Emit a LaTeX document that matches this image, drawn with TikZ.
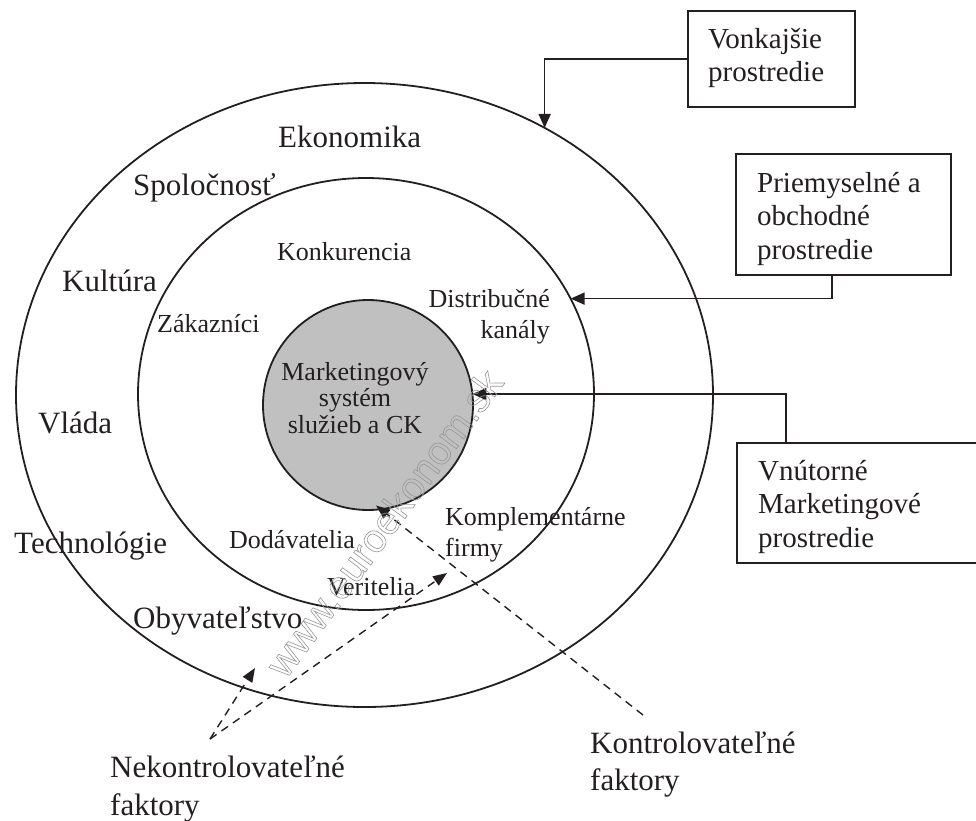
\documentclass[tikz,border=0pt]{standalone}
\usepackage{fontspec}
\setmainfont{Liberation Serif}
\newfontfamily\wmfont{Liberation Sans}
\usetikzlibrary{arrows.meta,shapes.geometric}
\definecolor{ink}{RGB}{35,31,32}
\definecolor{core}{RGB}{192,192,192}
\definecolor{wm}{RGB}{150,150,150}
\newcommand\vtl[1]{\vtop{\halign{##\hfil\cr#1\crcr}}}
\newcommand\vtc[1]{\vtop{\halign{\hfil##\hfil\cr#1\crcr}}}
\newcommand\vtr[1]{\vtop{\halign{\hfil##\cr#1\crcr}}}
\newcommand\outl[1]{\special{pdf:literal direct 1 Tr 0.6 w}#1\special{pdf:literal direct 0 Tr}}
\begin{document}
\begin{tikzpicture}[x=1pt,y=-1pt,
  ring/.style={draw=ink, line width=1.8pt, inner sep=0pt, outer sep=0pt},
  frame/.style={draw=ink, line width=1.8pt, inner sep=0pt, outer sep=0pt},
  big/.style={font=\fontsize{31}{38}\selectfont, text=ink, inner sep=0pt},
  small/.style={font=\fontsize{26}{31}\selectfont, text=ink, inner sep=0pt},
  boxtxt/.style={font=\fontsize{29}{33.5}\selectfont, text=ink, inner sep=0pt},
  link/.style={draw=ink, line width=1.6pt, -{Triangle[length=14pt,width=12pt]}},
  dlink/.style={draw=ink, line width=1.4pt, dash pattern=on 8pt off 6pt, -{Triangle[length=14pt,width=11pt]}}]
\useasboundingbox (0,0) rectangle (976,820);
\clip (0,0) rectangle (976,820);
% rings
\node[ring, ellipse, minimum width=697pt, minimum height=624pt] (outer) at (364.5,395) {};
\node[ring, ellipse, minimum width=456pt, minimum height=432pt] (inner) at (366,394) {};
\node[ring, circle, fill=core, minimum size=210pt] (core) at (368,405) {};
% boxes
\node[frame, minimum width=167pt, minimum height=96pt] (b1) at (771.5,59) {};
\node[frame, minimum width=215pt, minimum height=121pt] (b2) at (843.5,214.5) {};
\node[frame, minimum width=252pt, minimum height=120pt] (b3) at (863,503) {};
\node[boxtxt, anchor=base west] (b1t) at (708,48) {\vtl{Vonkajšie\cr prostredie}};
\node[boxtxt, anchor=base west] (b2t) at (757,192) {\vtl{Priemyselné a\cr obchodné\cr prostredie}};
\node[boxtxt, anchor=base west] (b3t) at (758,480) {\vtl{Vnútorné\cr Marketingové\cr prostredie}};
% solid connectors
\draw[link] (b1.west) -| (outer.56);
\draw[link] ([xshift=-11.5pt]b2.south) |- (inner.25);
\draw[link] ([xshift=49pt]b3.north west) |- (core.6);
% dashed connectors
\coordinate (kf) at (643,715);
\draw[dlink, shorten >=-6pt] (kf) -- (core.-83);
\coordinate (nk) at (210,739);
\coordinate (nk1) at (255,668);
\coordinate (nk2) at (447,573);
\draw[dlink] (nk) -- (nk1);
\draw[dlink] (nk) -- (nk2);
% outer ring labels
\node[big, anchor=base west] (eko) at (278,147) {Ekonomika};
\node[big, anchor=base west] (spo) at (133,195) {Spoločnosť};
\node[big, anchor=base west] (kul) at (62,291) {Kultúra};
\node[big, anchor=base west] (vla) at (38,433) {Vláda};
\node[big, anchor=base west] (tec) at (14,553) {Technológie};
\node[big, anchor=base west] (oby) at (133,628) {Obyvateľstvo};
% inner ring labels
\node[small, anchor=base west] (kon) at (277,260) {Konkurencia};
\node[small, anchor=base west] (zak) at (157,332) {Zákazníci};
\node[small, anchor=base east] (dis) at (550,307) {\vtr{Distribučné\cr kanály}};
\node[small, anchor=base west] (dod) at (229,548) {Dodávatelia};
\node[small, anchor=base west] (kom) at (445,525) {\vtl{Komplementárne\cr firmy}};
\node[small, anchor=base west] (ver) at (327,595) {Veritelia};
% core label
\node[small, anchor=base, font=\fontsize{26}{26.5}\selectfont] (mks) at (355,380) {\vtc{Marketingový\cr systém\cr služieb a CK}};
% bottom labels
\node[big, anchor=base west] (nek) at (110,777) {\vtl{Nekontrolovateľné\cr faktory}};
\node[big, anchor=base west, font=\fontsize{31}{37}\selectfont] (kfl) at (590,753) {\vtl{Kontrolovateľné\cr faktory}};
% watermark
\node[rotate=53.6, font=\wmfont\fontsize{40}{40}\selectfont, text=wm, inner sep=0pt] (wmk) at (384,523) {\outl{www.euroekonom.sk}};
\end{tikzpicture}
\end{document}
